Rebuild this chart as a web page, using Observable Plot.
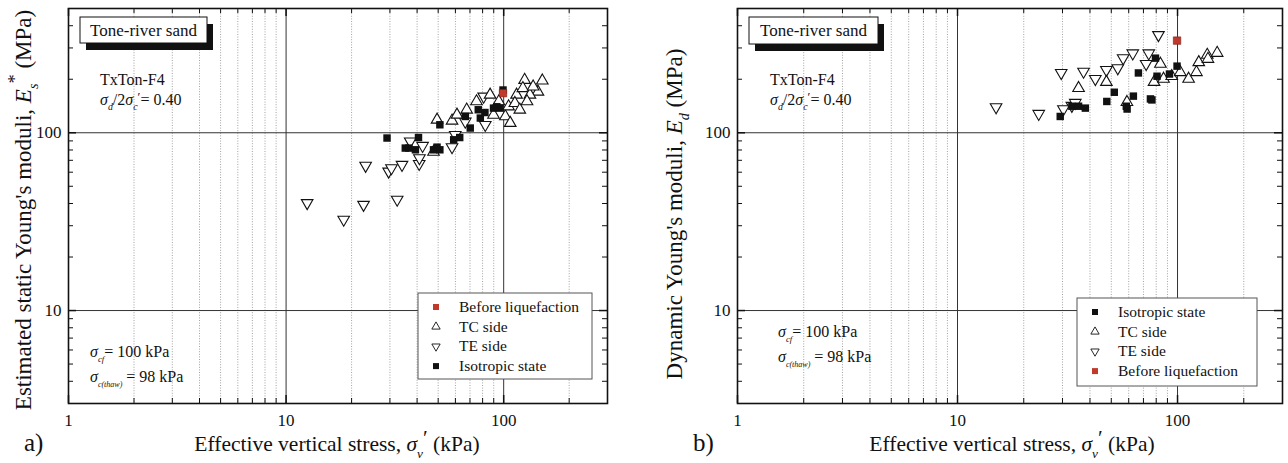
<!DOCTYPE html>
<html><head><meta charset="utf-8">
<script src="https://cdn.jsdelivr.net/npm/d3@7"></script>
<script src="https://cdn.jsdelivr.net/npm/@observablehq/plot@0.6"></script>
<style>
body{margin:0;background:#fff;}
#wrap{display:flex;width:1288px;height:463px;overflow:hidden;}
svg text{font-family:"Liberation Serif","Times New Roman",serif;}
</style></head><body><div id="wrap"></div>
<script>
// ---- axis definitions ----
const xDomain = [1, 300];
const yDomain = [3, 500];
const xMinor = [2,3,4,5,6,7,8,9,20,30,40,50,60,70,80,90,200];
const xMajor = [1,10,100];
const yMinor = [4,5,6,7,8,9,20,30,40,50,60,70,80,90,200,300,400];
const yMajor = [10,100];
const xTickLabels = [1,10,100];
const yTickLabels = [10,100];

// ---- panel a) estimated static Young's moduli [stress kPa, E MPa] ----
const aTE = [[12.5,40.3],[18.4,32.5],[22.7,39.4],[23.2,65.3],[32.4,42.1],[29.6,60.6],[30.5,63.3],[34.1,66.1],[40.9,66.9],[41.0,72.1],[42.4,84.5],[37.2,89.4],[57.9,83.1],[59.9,97.4],[66.6,115.7],[82.3,110.9],[80.9,160]];
const aTC = [[49.4,118.3],[57.9,116.8],[47.6,78.0],[67.6,134.7],[61.0,126.2],[86.6,163.5],[89.8,126],[101.8,123.5],[107.2,113.4],[105.3,140.5],[114.6,163.5],[112.6,146.8],[118.6,134.7],[124.8,198],[150.5,196.5],[122.5,178],[143.7,170],[132,163.5],[136.6,181.8],[75,150],[95,150],[128,150]];
const aIso = [[29.1,93.4],[35.3,82],[36.7,82],[40.6,94],[39.3,80.2],[47.6,80.2],[50.9,80.2],[49.4,83],[58.9,91.3],[62.8,94],[50.9,110.9],[70.2,106.3],[66.6,123.5],[76.4,134.7],[78.1,121],[89.8,137.6],[96.2,137.6],[99.3,174],[93,140],[82,130]];
const aBefore = [[99.3,167]];

// ---- panel b) dynamic Young's moduli ----
const bTE = [[14.97,139.4],[23.4,127.9],[29.6,217.3],[37.4,221],[42.3,201],[47.5,225.9],[53.5,231],[56.6,262.8],[62.6,280],[74,280],[72,244],[81.9,355],[30.3,136],[33.1,142],[34.3,147.5]];
const bTC = [[35.5,178.2],[47.5,192.8],[58.9,148.7],[78.2,192.8],[83.6,244],[86.4,201],[94.1,208],[102.9,219],[112.3,201],[121.9,219],[124.9,249],[136.5,274],[137.5,260],[151.4,281]];
const bIso = [[29.3,123.5],[33.1,141],[35.5,141],[38.1,137.6],[47.7,150],[51.6,169],[58.5,141],[59,136],[63,160.7],[66.4,217],[75.3,155],[76.5,153],[79.4,262.8],[80.7,208],[91.9,214],[99.5,237]];
const bBefore = [[99.5,329.9]];

const legendA = ["Before liquefaction","TC side","TE side","Isotropic state"];
const legendB = ["Isotropic state","TC side","TE side","Before liquefaction"];

const RED = "#c0392b";
const H = 463, MT = 8, MB = 60;
const rows = arr => arr.map(([x,y]) => ({x,y}));

function panel({width, ml, mr, te, tc, iso, before}) {
  const pw = width - ml - mr, ph = H - MT - MB;
  const tri = {x:"x", y:"y", symbol:"triangle", r:4.3, fill:"white", stroke:"#111", strokeWidth:1.1};
  const sq = {x:"x", y:"y", symbol:"square", r:4.2, stroke:"none"};
  return Plot.plot({
    width, height:H, marginTop:MT, marginBottom:MB, marginLeft:ml, marginRight:mr,
    x:{type:"log", domain:xDomain},
    y:{type:"log", domain:yDomain},
    style:{fontFamily:"Liberation Serif", fontSize:"17px", color:"#111", background:"white"},
    marks:[
      Plot.ruleX(xMinor, {stroke:"#8a8a8a", strokeDasharray:"1,1.6", strokeWidth:0.8}),
      Plot.ruleX([10,100], {stroke:"#333", strokeWidth:1}),
      Plot.ruleY(yMajor, {stroke:"#333", strokeWidth:1}),
      Plot.ruleX(xMinor, {insetTop:ph-5, stroke:"#111"}),
      Plot.ruleX(xMinor, {insetBottom:ph-5, stroke:"#111"}),
      Plot.ruleX(xMajor, {insetTop:ph-8, stroke:"#111", strokeWidth:1.5}),
      Plot.ruleX(xMajor, {insetBottom:ph-8, stroke:"#111", strokeWidth:1.5}),
      Plot.ruleY(yMinor, {insetRight:pw-5, stroke:"#111"}),
      Plot.ruleY(yMinor, {insetLeft:pw-5, stroke:"#111"}),
      Plot.ruleY(yMajor, {insetRight:pw-8, stroke:"#111", strokeWidth:1.5}),
      Plot.ruleY(yMajor, {insetLeft:pw-8, stroke:"#111", strokeWidth:1.5}),
      Plot.axisX({ticks:xTickLabels, tickSize:0, tickPadding:10, fontSize:17, tickFormat:d=>String(d), label:null}),
      Plot.axisY({ticks:yTickLabels, tickSize:0, tickPadding:7, fontSize:17, tickFormat:d=>String(d), label:null}),
      Plot.dot(rows(te), {...tri, rotate:180}),
      Plot.dot(rows(tc), tri),
      Plot.dot(rows(iso), {...sq, fill:"#111"}),
      Plot.dot(rows(before), {...sq, fill:RED, stroke:"#7a1f17", strokeWidth:0.6}),
      Plot.frame({stroke:"#111", strokeWidth:1.6})
    ]
  });
}

function rich(g, x, y, parts, {size=16, anchor="start", transform=null} = {}) {
  const t = g.append("text").attr("x", x).attr("y", y).attr("font-size", size)
    .attr("text-anchor", anchor).attr("fill", "#111");
  if (transform) t.attr("transform", transform);
  let shift = 0;
  for (const p of parts) {
    const s = typeof p === "string" ? {t:p} : p;
    const target = s.shift != null ? s.shift*size : s.sub ? size*0.32 : s.sup ? -size*0.42 : 0;
    const ts = t.append("tspan").text(s.t).attr("dy", target - shift);
    shift = target;
    if (s.sub || s.sup) ts.attr("font-size", size*(s.small||0.62));
    if (s.i) ts.attr("font-style", "italic");
  }
  return t;
}

function annotate(svgEl, off, c) {
  const g = d3.select(svgEl).append("g").attr("transform", `translate(${-off},0)`);
  // title box with shadow
  g.append("rect").attr("x", c.box[0]+6).attr("y", c.box[1]+7).attr("width", c.box[2]).attr("height", c.box[3]).attr("fill", "#111");
  g.append("rect").attr("x", c.box[0]).attr("y", c.box[1]).attr("width", c.box[2]).attr("height", c.box[3]).attr("fill", "white").attr("stroke", "#111").attr("stroke-width", 1);
  rich(g, c.box[0] + c.box[2]/2, c.box[1] + 19, ["Tone-river sand"], {size:17, anchor:"middle"});
  // test info
  rich(g, c.info[0], c.info[1], ["TxTon-F4"], {size:16});
  rich(g, c.info[0], c.info[1]+20, [{t:"σ",i:1},{t:"d",sub:1,i:1},"/2",{t:"σ",i:1},{t:"c",sub:1,i:1},{t:"′",sup:1,small:0.8,shift:-0.22},"= 0.40"], {size:16});
  rich(g, c.cf[0], c.cf[1], [{t:"σ",i:1},{t:"cf",sub:1,i:1,small:0.55},"= 100 kPa"], {size:16});
  rich(g, c.cf[0], c.cf[1]+25, [{t:"σ",i:1},{t:"c(thaw)",sub:1,i:1,small:0.5}," = 98 kPa"], {size:16});
  // legend
  const L = c.legend;
  g.append("rect").attr("x", L.x).attr("y", L.y).attr("width", L.w).attr("height", L.h).attr("fill", "white").attr("stroke", "#555").attr("stroke-width", 1);
  L.items.forEach((name, i) => {
    const cy = L.y + 14 + i*19.7, sx = L.x + 18;
    if (name === "TC side" || name === "TE side") {
      g.append("path").attr("d", d3.symbol(d3.symbolTriangle, 30)()).attr("fill", "white").attr("stroke", "#111").attr("stroke-width", 0.9)
        .attr("transform", `translate(${sx},${cy})` + (name === "TE side" ? " rotate(180)" : ""));
    } else {
      g.append("rect").attr("x", sx-3).attr("y", cy-3).attr("width", 6).attr("height", 6)
        .attr("fill", name === "Before liquefaction" ? RED : "#111");
    }
    rich(g, L.x + 41, cy + 5, [name], {size:15.5});
  });
  // axis titles
  rich(g, c.xlab[0], c.xlab[1], ["Effective vertical stress, ", {t:"σ",i:1}, {t:"v",sub:1,i:1}, {t:"′",sup:1,small:1,shift:-0.3}, " (kPa)"], {size:21.5, anchor:"middle"});
  rich(g, c.letter[0], c.letter[1], [c.letter[2]], {size:25});
  rich(g, 0, 0, c.ylab, {size:23, anchor:"middle", transform:`translate(${c.ypos[0]},${c.ypos[1]}) rotate(-90)`});
}

const wrap = document.getElementById("wrap");
const svgA = panel({width:640, ml:68, mr:33, te:aTE, tc:aTC, iso:aIso, before:aBefore});
const svgB = panel({width:648, ml:97, mr:6, te:bTE, tc:bTC, iso:bIso, before:bBefore});
wrap.append(svgA, svgB);

annotate(svgA, 0, {
  box:[80,17,127,26], info:[100,85], cf:[90,357],
  legend:{x:418, y:293, w:174, h:86, items:legendA},
  xlab:[337,451], letter:[24,451,"a)"],
  ylab:["Estimated static Young's moduli, ", {t:"E",i:1}, {t:"s",sub:1,i:1}, {t:"*",sup:1,small:0.8}, " (MPa)"],
  ypos:[31,210]
});
annotate(svgB, 640, {
  box:[749,17,129,27], info:[770,85], cf:[778,337],
  legend:{x:1077, y:298, w:180, h:88, items:legendB},
  xlab:[1012,451], letter:[693,451,"b)"],
  ylab:["Dynamic Young's moduli, ", {t:"E",i:1}, {t:"d",sub:1,i:1}, " (MPa)"],
  ypos:[682,214]
});
</script>
</body></html>
